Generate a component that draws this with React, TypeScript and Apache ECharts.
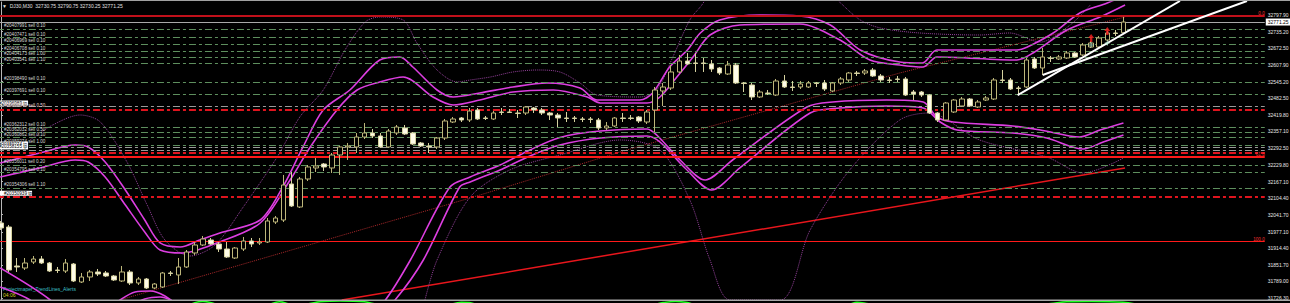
import React, { useEffect, useRef } from "react";
import * as echarts from "echarts";

// ---------- axis setup ----------
const SLOT_COUNT = 157;
const slotNames: string[] = [];
for (let i = 0; i < SLOT_COUNT; i++) slotNames.push(String(i));
const Y_MIN = 31718.7;
const Y_MAX = 32847.1;
const priceTicks = [32797.9, 32735.2, 32672.5, 32607.9, 32545.2, 32482.5, 32419.8, 32357.1, 32292.5, 32229.8, 32167.1, 32104.4, 32041.7, 31977.1, 31914.4, 31851.7, 31789.0, 31726.3];

// ---------- candles (DJ30, M30) ----------
const opens = [32010.3, 31995.1, 31847.5, 31839.9, 31862.6, 31874.0, 31858.8, 31832.3, 31828.5, 31855.0, 31786.9, 31805.8, 31824.8, 31821.0, 31809.6, 31790.7, 31824.8, 31783.1, 31798.2, 31764.1, 31767.9, 31821.0, 31813.4, 31843.7, 31896.7, 31927.0, 31945.9, 31930.8, 31911.8, 31877.7, 31911.8, 31942.1, 31934.5, 31938.3, 32014.1, 32021.6, 32158.0, 32070.9, 32176.9, 32218.6, 32233.7, 32218.6, 32267.8, 32298.1, 32298.1, 32335.9, 32351.1, 32339.7, 32298.1, 32351.1, 32370.0, 32351.1, 32313.2, 32301.8, 32298.1, 32332.1, 32392.7, 32407.9, 32400.3, 32438.2, 32407.9, 32404.1, 32430.6, 32430.6, 32426.8, 32426.8, 32445.7, 32438.2, 32426.8, 32419.2, 32407.9, 32407.9, 32404.1, 32404.1, 32400.3, 32370.0, 32377.6, 32407.9, 32407.9, 32411.6, 32392.7, 32438.2, 32510.1, 32521.5, 32582.1, 32623.7, 32616.2, 32616.2, 32612.4, 32597.2, 32574.5, 32608.6, 32540.4, 32532.8, 32487.4, 32502.5, 32494.9, 32548.0, 32525.2, 32525.2, 32525.2, 32540.4, 32540.4, 32510.1, 32540.4, 32551.8, 32578.3, 32578.3, 32589.6, 32566.9, 32551.8, 32555.6, 32555.6, 32506.3, 32506.3, 32494.9, 32426.8, 32400.3, 32430.6, 32453.3, 32479.8, 32449.5, 32476.0, 32479.8, 32551.8, 32551.8, 32521.5, 32525.2, 32631.3, 32597.2, 32635.1, 32631.3, 32635.1, 32654.0, 32646.5, 32676.7, 32676.7, 32703.2, 32729.7, 32730.75];
const closes = [31991.4, 31832.3, 31843.7, 31858.8, 31874.0, 31858.8, 31828.5, 31830.4, 31858.8, 31790.7, 31805.8, 31824.8, 31817.2, 31809.6, 31794.5, 31824.8, 31783.1, 31798.2, 31764.1, 31779.3, 31821.0, 31819.1, 31843.7, 31900.5, 31927.0, 31949.7, 31930.8, 31911.8, 31881.5, 31915.6, 31942.1, 31930.8, 31938.3, 32017.9, 32029.2, 32154.2, 32074.7, 32176.9, 32222.4, 32226.2, 32222.4, 32267.8, 32298.1, 32301.8, 32335.9, 32351.1, 32339.7, 32298.1, 32358.6, 32373.8, 32347.3, 32309.4, 32301.8, 32298.1, 32332.1, 32396.5, 32404.1, 32400.3, 32434.4, 32404.1, 32406.0, 32426.8, 32428.7, 32428.7, 32424.9, 32449.5, 32438.2, 32426.8, 32419.2, 32407.9, 32406.0, 32406.0, 32402.2, 32402.2, 32370.0, 32377.6, 32407.9, 32406.0, 32406.0, 32396.5, 32430.6, 32513.9, 32525.2, 32582.1, 32623.7, 32612.4, 32614.3, 32614.3, 32593.4, 32578.3, 32608.6, 32540.4, 32538.5, 32487.4, 32506.3, 32500.6, 32548.0, 32525.2, 32523.3, 32536.6, 32540.4, 32538.5, 32517.7, 32540.4, 32555.6, 32578.3, 32576.4, 32585.9, 32566.9, 32551.8, 32549.9, 32553.7, 32494.9, 32498.7, 32494.9, 32426.8, 32400.3, 32464.7, 32476.0, 32479.8, 32453.3, 32468.5, 32483.6, 32551.8, 32549.9, 32517.7, 32519.6, 32627.5, 32597.2, 32638.9, 32633.2, 32638.9, 32654.0, 32638.9, 32684.3, 32691.9, 32710.8, 32729.7, 32727.9, 32771.25];
const lows = [31983.8, 31824.8, 31824.8, 31832.3, 31855.0, 31855.0, 31824.8, 31821.0, 31821.0, 31786.9, 31783.1, 31790.7, 31809.6, 31805.8, 31790.7, 31786.9, 31775.5, 31775.5, 31760.4, 31760.4, 31764.1, 31809.6, 31779.3, 31839.9, 31889.1, 31923.2, 31927.0, 31900.5, 31877.7, 31874.0, 31904.2, 31919.4, 31927.0, 31934.5, 32006.5, 32014.1, 32070.9, 32067.1, 32169.4, 32203.4, 32207.2, 32199.6, 32192.1, 32248.9, 32275.3, 32328.3, 32332.1, 32294.3, 32294.3, 32343.5, 32343.5, 32305.6, 32298.1, 32275.3, 32290.5, 32324.5, 32388.9, 32392.7, 32392.7, 32400.3, 32400.3, 32400.3, 32419.2, 32426.8, 32407.9, 32419.2, 32426.8, 32419.2, 32400.3, 32373.8, 32392.7, 32392.7, 32392.7, 32388.9, 32362.4, 32362.4, 32373.8, 32392.7, 32400.3, 32388.9, 32385.1, 32354.8, 32453.3, 32513.9, 32578.3, 32608.6, 32582.1, 32582.1, 32582.1, 32570.7, 32570.7, 32536.6, 32506.3, 32476.0, 32483.6, 32494.9, 32491.2, 32521.5, 32510.1, 32517.7, 32521.5, 32525.2, 32510.1, 32506.3, 32532.8, 32544.2, 32566.9, 32570.7, 32563.1, 32544.2, 32540.4, 32544.2, 32491.2, 32476.0, 32487.4, 32423.0, 32392.7, 32396.5, 32426.8, 32449.5, 32449.5, 32445.7, 32472.2, 32476.0, 32540.4, 32513.9, 32494.9, 32521.5, 32593.4, 32570.7, 32619.9, 32627.5, 32631.3, 32635.1, 32642.7, 32672.9, 32672.9, 32699.4, 32718.4, 32730.25];
const highs = [32017.9, 32002.7, 31877.7, 31877.7, 31885.3, 31885.3, 31862.6, 31843.7, 31874.0, 31858.8, 31821.0, 31832.3, 31836.1, 31828.5, 31813.4, 31847.5, 31832.3, 31805.8, 31802.0, 31783.1, 31824.8, 31828.5, 31877.7, 31908.0, 31938.3, 31961.1, 31953.5, 31938.3, 31938.3, 31919.4, 31957.3, 31953.5, 31953.5, 32029.2, 32036.8, 32192.1, 32203.4, 32184.5, 32229.9, 32256.1, 32237.5, 32275.3, 32301.8, 32313.2, 32351.1, 32388.9, 32366.2, 32351.1, 32366.2, 32381.4, 32381.4, 32354.8, 32317.0, 32313.2, 32335.9, 32404.1, 32411.6, 32411.6, 32445.7, 32445.7, 32415.4, 32434.4, 32445.7, 32441.9, 32438.2, 32453.3, 32449.5, 32445.7, 32430.6, 32426.8, 32430.6, 32415.4, 32411.6, 32411.6, 32407.9, 32392.7, 32411.6, 32426.8, 32419.2, 32415.4, 32438.2, 32525.2, 32540.4, 32608.6, 32646.5, 32654.0, 32654.0, 32635.1, 32627.5, 32601.0, 32623.7, 32616.2, 32544.2, 32540.4, 32513.9, 32513.9, 32555.6, 32570.7, 32548.0, 32548.0, 32548.0, 32544.2, 32551.8, 32544.2, 32563.1, 32582.1, 32585.9, 32593.4, 32597.2, 32574.5, 32563.1, 32566.9, 32563.1, 32513.9, 32510.1, 32498.7, 32430.6, 32468.5, 32479.8, 32487.4, 32483.6, 32476.0, 32491.2, 32559.3, 32589.6, 32559.3, 32529.0, 32635.1, 32638.9, 32672.9, 32642.7, 32646.5, 32661.6, 32657.8, 32691.9, 32699.4, 32718.4, 32737.3, 32741.1, 32790.75];

// ---------- indicator lines [bar index, price] ----------
const bandUpperOuter = [[-0.1, 32237.5], [4.8, 32275.4], [9.2, 32305.6], [10.8, 32298.1], [12.9, 32241.3], [15.4, 32135.2], [17.8, 32021.6], [19.7, 31934.6], [22.2, 31919.4], [24.6, 31945.9], [27.1, 31972.4], [32.1, 32021.6], [34.9, 32146.6], [37.4, 32298.1], [39.9, 32438.2], [43.2, 32513.9], [46.9, 32627.5], [49.4, 32638.9], [51.0, 32601.0], [54.0, 32513.9], [56.0, 32487.4], [59.3, 32502.5], [63.4, 32525.2], [67.6, 32540.4], [71.7, 32521.5], [73.8, 32476.0], [79.1, 32476.0], [80.7, 32502.5], [82.8, 32601.0], [85.0, 32665.4], [86.6, 32729.7], [89.0, 32778.9], [94.0, 32797.9], [98.9, 32794.1], [102.7, 32760.0], [106.4, 32665.4], [111.3, 32619.9], [114.1, 32616.2], [115.9, 32665.4], [125.8, 32665.4], [127.1, 32676.7], [130.3, 32729.7], [133.6, 32805.5], [137.0, 32843.3], [139.2, 32873.6]];
const bandUpperInner = [[-0.1, 32184.5], [4.8, 32218.6], [9.2, 32248.9], [10.8, 32241.3], [12.9, 32184.5], [15.4, 32078.5], [17.8, 31976.2], [19.7, 31908.0], [22.5, 31896.7], [26.7, 31934.5], [32.1, 32010.3], [35.8, 32173.1], [38.3, 32298.1], [41.6, 32438.2], [44.1, 32513.9], [46.9, 32544.2], [49.8, 32563.1], [53.5, 32487.4], [56.0, 32457.1], [59.3, 32476.0], [63.4, 32506.3], [68.4, 32513.9], [72.6, 32487.4], [74.2, 32464.7], [80.0, 32464.7], [81.6, 32487.4], [83.7, 32563.1], [85.7, 32638.9], [87.8, 32722.2], [91.5, 32760.0], [98.9, 32763.8], [103.9, 32703.2], [107.6, 32627.5], [111.3, 32608.6], [114.2, 32601.0], [115.9, 32638.9], [125.8, 32627.5], [127.8, 32654.0], [132.0, 32741.1], [136.1, 32790.3], [139.2, 32835.8]];
const bandLowerInner = [[-0.1, 31839.9], [6.1, 31718.7], [7.3, 31662.0], [13.5, 31699.8], [16.6, 31749.0], [18.5, 31752.8], [20.3, 31733.9], [22.8, 31680.8], [30.0, 31600.0], [44.0, 31600.0], [47.6, 31718.7], [50.7, 31870.2], [55.6, 32146.6], [58.1, 32184.5], [61.8, 32229.9], [65.5, 32286.7], [69.2, 32334.1], [74.2, 32358.6], [80.0, 32366.2], [81.2, 32343.5], [84.1, 32248.9], [87.2, 32173.1], [90.6, 32248.9], [99.8, 32449.5], [103.0, 32468.5], [109.7, 32476.0], [114.2, 32468.5], [115.9, 32411.6], [117.9, 32392.7], [125.3, 32377.6], [128.7, 32362.4], [133.6, 32335.9], [136.1, 32362.4], [139.0, 32388.9]];
const bandLowerOuter = [[-0.1, 31767.9], [3.6, 31718.7], [5.4, 31662.0], [14.7, 31680.8], [17.8, 31722.5], [19.7, 31730.1], [21.5, 31711.1], [24.0, 31662.0], [30.0, 31600.0], [45.0, 31600.0], [48.8, 31718.7], [52.3, 31870.2], [56.8, 32146.6], [58.1, 32165.5], [61.8, 32211.0], [65.5, 32264.0], [69.2, 32305.6], [74.2, 32332.1], [80.0, 32339.7], [81.6, 32317.0], [84.7, 32218.6], [88.0, 32135.2], [91.5, 32218.6], [100.2, 32426.8], [103.9, 32445.7], [109.7, 32453.3], [114.2, 32445.7], [116.3, 32392.7], [118.4, 32362.4], [125.3, 32351.1], [129.5, 32332.1], [134.0, 32290.5], [136.5, 32317.0], [139.0, 32343.5]];
const envUpper = [[3.6, 32324.5], [6.4, 32381.4], [9.8, 32419.2], [12.3, 32392.7], [15.6, 32241.3], [18.1, 32078.5], [20.3, 31945.9], [23.4, 31885.3], [26.5, 31927.0], [30.0, 32070.9], [34.2, 32260.2], [37.0, 32411.6], [39.9, 32513.9], [42.6, 32665.4], [45.1, 32771.4], [46.9, 32790.3], [49.8, 32779.0], [51.5, 32691.9], [54.0, 32589.6], [56.5, 32544.2], [58.1, 32551.8], [60.6, 32563.1], [63.4, 32582.1], [66.4, 32589.6], [69.2, 32582.1], [71.7, 32540.4], [73.8, 32495.0], [79.1, 32487.4], [81.2, 32513.9], [83.2, 32638.9], [85.3, 32779.0], [86.6, 32828.2], [89.0, 32911.5], [101.4, 32892.6], [106.4, 32779.0], [108.9, 32748.7], [113.8, 32729.7], [121.2, 32722.2], [124.9, 32729.7], [128.7, 32695.7], [132.4, 32760.0], [134.9, 32835.8]];
const envLower = [[52.5, 31718.7], [54.0, 31870.2], [58.1, 32108.7], [63.0, 32211.0], [69.2, 32267.8], [76.7, 32324.5], [81.6, 32286.7], [85.3, 32097.4], [87.8, 31870.2], [90.3, 31718.7], [96.5, 31718.7], [100.2, 31983.8], [105.1, 32211.0], [111.3, 32400.3], [114.9, 32426.8], [121.2, 32324.5], [129.5, 32260.2], [134.0, 32199.6], [139.0, 32256.1]];
const maLine = [[14.7, 31718.7], [58.1, 32104.9], [77.5, 32286.7], [111.3, 32578.3], [139.2, 32790.3]];
const redTrend = [[42.2, 31718.7], [139.2, 32218.6]];
const whiteTrend1 = [[125.9, 32494.9], [146.0, 32850.9]];
const whiteTrend2 = [[129.0, 32570.7], [154.3, 32850.9]];
const buyArrows = [[135, 32710.8], [137, 32737.3]];
const crossMarks = [[135, 32684.3], [137, 32691.9]];
const subWindow = [[-0.5, 70], [22, 80], [24, 96], [25, 99], [26.5, 93], [30, 75], [33, 90], [34.5, 98], [36, 92], [38, 93], [39.5, 98], [42, 100], [45, 98], [46.5, 92], [50, 80], [55, 88], [57, 97], [58, 96], [60, 85], [70, 75], [80, 88], [82, 96], [83.5, 99], [85, 96], [86.5, 88], [95, 80], [105, 92], [106, 97], [107.5, 93], [115, 80], [125, 85], [130, 94], [132, 98], [135, 99], [139, 97], [141, 90]];

// ---------- horizontal levels ----------
const orderLevels = [32743.8, 32711.9, 32688.1, 32658.9, 32637.7, 32615.0, 32543.1, 32498.8, 32371.2, 32352.2, 32333.3, 32305.6, 32229.9, 32200.8, 32141.7];
const orderLabels = ["#20407991 sell 0.10", "#20407471 sell 0.10", "#20406969 sell 0.10", "#20406708 sell 0.10", "#20404173 sell 1.00", "#20403541 sell 1.10", "#20398490 sell 0.10", "#20397691 sell 0.10", "#20362312 sell 0.10", "#20362032 sell 0.50", "#20360862 sell 0.10", "#20359274 sell 1.00", "#20356011 sell 0.20", "#20354795 sell 0.10", "#20354306 sell 1.10"];
const tpLevels = [32451.4, 32296.0, 32284.8];
const tpLabels = ["#20396989 tp", "#20359274 tp", "#20358155 tp"];
const stopLevels = [32440.1, 32276.5, 32109.9];
const stopLabels = ["#20376346 sell 0.50", "", "#20350939 tp"];
const fibLevels = [32794.1, 32261.3, 31939.5];
const fibLabels = ["0.0", "61.8", "100.0"];
const fibSideLabels = ["", "#20358155 sell 0.60", ""];
const bidPrice = 32771.25;

const FONT = "Liberation Sans";

function buildOption() {
  const candleData = opens.map((o, i) => [o, closes[i], lows[i], highs[i]]);
  const marks: any[] = [];
  const small = { fontSize: 4.6, fontFamily: FONT, color: "#d8d8d8" };
  orderLevels.forEach((v, i) => {
    marks.push({
      yAxis: v,
      lineStyle: { color: "#5e8f5e", width: 1, type: [7, 3, 3, 3] },
      label: { show: true, position: "insideStartTop", formatter: orderLabels[i], distance: 1, padding: [0, 0, 0, 6], ...small },
    });
  });
  tpLevels.forEach((v, i) => {
    marks.push({
      yAxis: v,
      lineStyle: { color: "#9a9a9a", width: 1, type: [7, 3, 3, 3] },
      label: { show: true, position: "insideStartTop", formatter: tpLabels[i], distance: 1, backgroundColor: "#ffffff", padding: [0, 1], ...small, color: "#000000" },
    });
  });
  stopLevels.forEach((v, i) => {
    marks.push({
      yAxis: v,
      lineStyle: { color: "#e0141e", width: 2, type: [7, 3, 3, 3] },
      label: stopLabels[i]
        ? { show: true, position: "insideStartTop", formatter: stopLabels[i], distance: 1, padding: [0, 0, 0, 6], ...small, backgroundColor: i === 2 ? "#ffffff" : "transparent", color: i === 2 ? "#000000" : "#e8d0d0" }
        : { show: false },
    });
  });
  fibLevels.forEach((v, i) => {
    marks.push({
      yAxis: v,
      lineStyle: { color: i === 0 ? "#c0101a" : "#ff1a1a", width: i === 2 ? 1 : 2, type: "solid" },
      label: { show: true, position: "insideEndTop", formatter: fibLabels[i], distance: 0, fontSize: 4.6, fontFamily: FONT, color: "#ff3030" },
    });
    if (fibSideLabels[i]) {
      marks.push({
        yAxis: v,
        lineStyle: { opacity: 0 },
        label: { show: true, position: "insideStartTop", formatter: fibSideLabels[i], distance: 1, padding: [0, 0, 0, 6], ...small },
      });
    }
  });
  marks.push({
    yAxis: bidPrice,
    lineStyle: { color: "#a8a8a8", width: 1, type: "solid" },
    label: { show: true, position: "end", formatter: bidPrice.toFixed(2), distance: 1, fontSize: 5, fontFamily: FONT, color: "#000000", backgroundColor: "#ffffff", padding: [1, 2] },
  });

  const lineSeries = (name: string, data: number[][], color: string, width: number, type: any, z: number, smooth = 0.3) => ({
    name,
    type: "line",
    xAxisIndex: 1,
    yAxisIndex: 0,
    data,
    symbol: "none",
    smooth,
    clip: true,
    silent: true,
    z,
    lineStyle: { color, width, type },
  });

  return {
    animation: false,
    backgroundColor: "#000000",
    grid: [
      { left: -3.04, top: 2, width: 1267.8, height: 298, outerBoundsMode: "none", containLabel: false },
      { left: -3.04, top: 301, width: 1267.8, height: 40, outerBoundsMode: "none", containLabel: false },
    ],
    xAxis: [
      { type: "category", gridIndex: 0, data: slotNames, boundaryGap: true, show: false },
      { type: "value", gridIndex: 0, min: -0.5, max: SLOT_COUNT - 0.5, show: false },
      { type: "value", gridIndex: 1, min: -0.5, max: SLOT_COUNT - 0.5, show: false },
    ],
    yAxis: [
      {
        type: "value",
        gridIndex: 0,
        position: "right",
        min: Y_MIN,
        max: Y_MAX,
        scale: true,
        splitLine: { show: false },
        axisLine: { show: true, lineStyle: { color: "#b8b8b8", width: 1 } },
        axisTick: { show: true, length: 2, customValues: priceTicks, lineStyle: { color: "#b8b8b8" } },
        axisLabel: {
          show: true,
          customValues: priceTicks,
          formatter: (v: number) => v.toFixed(2),
          fontSize: 5,
          fontFamily: FONT,
          color: "#e8e8e8",
          margin: 3,
        },
      },
      { type: "value", gridIndex: 1, min: 0, max: 100, show: false },
    ],
    series: [
      {
        name: "levels",
        type: "line",
        xAxisIndex: 1,
        yAxisIndex: 0,
        data: [[-5, Y_MIN - 500]],
        symbol: "none",
        silent: true,
        z: 1,
        markLine: { symbol: ["none", "none"], silent: true, animation: false, data: marks },
      },
      lineSeries("maLine", maLine, "#a8282a", 1, "dotted", 2, 0),
      lineSeries("redTrend", redTrend, "#e8161c", 1.5, "solid", 3, 0),
      lineSeries("envUpper", envUpper, "#93409a", 1, "dotted", 3),
      lineSeries("envLower", envLower, "#93409a", 1, "dotted", 3),
      lineSeries("bandUpperOuter", bandUpperOuter, "#dc3ee0", 1.6, "solid", 4),
      lineSeries("bandUpperInner", bandUpperInner, "#dc3ee0", 1.6, "solid", 4),
      lineSeries("bandLowerInner", bandLowerInner, "#dc3ee0", 1.6, "solid", 4),
      lineSeries("bandLowerOuter", bandLowerOuter, "#dc3ee0", 1.6, "solid", 4),
      {
        name: "DJ30",
        type: "candlestick",
        xAxisIndex: 0,
        yAxisIndex: 0,
        data: candleData,
        barWidth: 5,
        clip: true,
        z: 5,
        itemStyle: {
          color: "#000000",
          color0: "#fffce8",
          borderColor: "#bdb67a",
          borderColor0: "#d6d2a0",
          borderWidth: 1,
        },
      },
      lineSeries("whiteTrend1", whiteTrend1, "#ffffff", 2, "solid", 6, 0),
      lineSeries("whiteTrend2", whiteTrend2, "#ffffff", 2, "solid", 6, 0),
      {
        name: "buyArrows",
        type: "scatter",
        xAxisIndex: 1,
        yAxisIndex: 0,
        data: buyArrows,
        symbol: "path://M5,0 L10,5 L7,5 L7,10 L3,10 L3,5 L0,5 Z",
        symbolSize: [6, 8],
        itemStyle: { color: "#ff2020" },
        z: 7,
      },
      {
        name: "crossMarks",
        type: "scatter",
        xAxisIndex: 1,
        yAxisIndex: 0,
        data: crossMarks,
        symbol: "path://M4,0 L6,0 L6,4 L10,4 L10,6 L6,6 L6,10 L4,10 L4,6 L0,6 L0,4 L4,4 Z",
        symbolSize: 5,
        itemStyle: { color: "#b8f0d8" },
        z: 7,
      },
      {
        name: "subWindow",
        type: "line",
        xAxisIndex: 2,
        yAxisIndex: 1,
        data: subWindow,
        symbol: "none",
        smooth: 0.4,
        clip: true,
        lineStyle: { color: "#22ff22", width: 1.5 },
        silent: true,
      },
    ],
    graphic: [
      { type: "rect", left: 0, top: 0, shape: { width: 1290, height: 1 }, style: { fill: "#a0a0a0" }, silent: true },
      { type: "rect", left: 0, top: 299.5, shape: { width: 1290, height: 1.5 }, style: { fill: "#a8a8a8" }, silent: true, z: 10 },
      { type: "text", left: 2, top: 3, style: { text: "\u25BC  DJ30,M30  32730.75 32790.75 32730.25 32771.25", fill: "#e0e0e0", fontSize: 5, fontFamily: FONT }, silent: true },
      { type: "text", left: 3, top: 286, style: { text: "Projectmaper_TrendLines_Alerts", fill: "#3fc0c8", fontSize: 5, fontFamily: FONT }, silent: true },
      { type: "text", left: 3, top: 292.5, style: { text: "04:06", fill: "#d8d020", fontSize: 5, fontFamily: FONT }, silent: true },
    ],
  };
}

export default function App() {
  const ref = useRef<HTMLDivElement>(null);
  useEffect(() => {
    if (!ref.current) return;
    const chart = echarts.init(ref.current, null, { renderer: "svg" });
    chart.setOption(buildOption() as any);
    return () => chart.dispose();
  }, []);
  return <div ref={ref} style={{ position: "absolute", left: 0, top: 0, width: 1290, height: 303 }} />;
}
